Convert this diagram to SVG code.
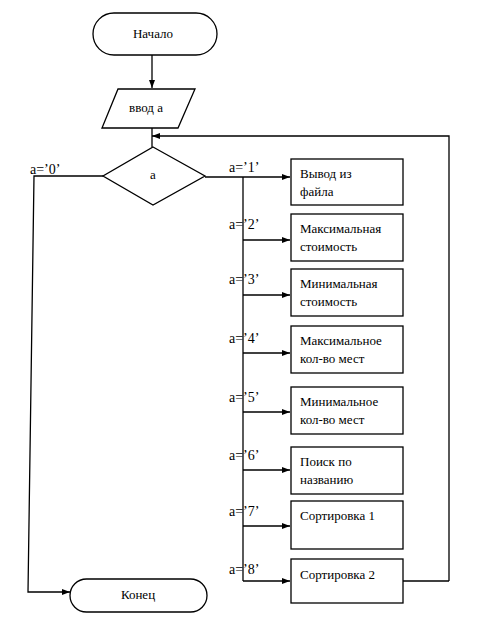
<svg xmlns="http://www.w3.org/2000/svg" width="478" height="625" viewBox="0 0 478 625">
<defs>
<marker id="ah" markerWidth="8" markerHeight="6" refX="8" refY="3" orient="auto" markerUnits="userSpaceOnUse">
<path d="M0,0 L8,3 L0,6 Z" fill="#000"/>
</marker>
<style>
.s{fill:#fff;stroke:#000;stroke-width:1.3}
.c{fill:none;stroke:#000;stroke-width:1.3}
text{font-family:'Times New Roman','Liberation Serif','DejaVu Serif','Noto Serif',Times,serif;font-size:13px;fill:#000}
.m{text-anchor:middle}
.l{font-size:14px}
</style>
</defs>
<rect width="478" height="625" fill="#fff"/>
<g id="connectors">
<path class="c" d="M152,55 V88" marker-end="url(#ah)"/>
<path class="c" d="M152,128 V147"/>
<path class="c" d="M449,581 V136 H152" marker-end="url(#ah)"/>
<path class="c" d="M403,581 H449"/>
<path class="c" d="M103,176 H34 L28,592 H70" marker-end="url(#ah)"/>
<path class="c" d="M205,177 H290" marker-end="url(#ah)"/>
<path class="c" d="M243,177 V581"/>
<path class="c" d="M243,240 H290" marker-end="url(#ah)"/>
<path class="c" d="M243,295 H290" marker-end="url(#ah)"/>
<path class="c" d="M243,353 H290" marker-end="url(#ah)"/>
<path class="c" d="M243,412 H290" marker-end="url(#ah)"/>
<path class="c" d="M243,470 H290" marker-end="url(#ah)"/>
<path class="c" d="M243,526 H290" marker-end="url(#ah)"/>
<path class="c" d="M243,581 H290" marker-end="url(#ah)"/>
<text class="l" x="30" y="174">a=’0’</text>
<text class="l" x="229" y="172">a=’1’</text>
<text class="l" x="229" y="229">a=’2’</text>
<text class="l" x="229" y="284">a=’3’</text>
<text class="l" x="229" y="343">a=’4’</text>
<text class="l" x="229" y="402">a=’5’</text>
<text class="l" x="229" y="460">a=’6’</text>
<text class="l" x="229" y="516">a=’7’</text>
<text class="l" x="229" y="574">a=’8’</text>
</g>
<g id="start">
<rect class="s" x="93" y="13" width="124" height="42" rx="21" ry="21"/>
<text class="m" x="153" y="38">Начало</text>
</g>
<g id="input">
<polygon class="s" points="118,89 195,89 178,128 102,128"/>
<text class="m" x="146" y="112">ввод а</text>
</g>
<g id="decision">
<polygon class="s" points="153,147 205,176 153,205 103,176"/>
<text class="m" x="153" y="179">а</text>
</g>
<g id="b1">
<rect class="s" x="291" y="159" width="112" height="46"/>
<text x="300" y="178">Вывод из</text>
<text x="300" y="196">файла</text>
</g>
<g id="b2">
<rect class="s" x="291" y="214" width="112" height="47"/>
<text x="300" y="233">Максимальная</text>
<text x="300" y="251">стоимость</text>
</g>
<g id="b3">
<rect class="s" x="291" y="269" width="112" height="47"/>
<text x="300" y="288">Минимальная</text>
<text x="300" y="306">стоимость</text>
</g>
<g id="b4">
<rect class="s" x="291" y="326" width="112" height="47"/>
<text x="300" y="345">Максимальное</text>
<text x="300" y="363">кол-во мест</text>
</g>
<g id="b5">
<rect class="s" x="291" y="387" width="112" height="47"/>
<text x="300" y="406">Минимальное</text>
<text x="300" y="424">кол-во мест</text>
</g>
<g id="b6">
<rect class="s" x="291" y="447" width="112" height="47"/>
<text x="300" y="466">Поиск по</text>
<text x="300" y="484">названию</text>
</g>
<g id="b7">
<rect class="s" x="291" y="501" width="112" height="48"/>
<text x="300" y="520">Сортировка 1</text>
</g>
<g id="b8">
<rect class="s" x="291" y="559" width="112" height="44"/>
<text x="300" y="579">Сортировка 2</text>
</g>
<g id="end">
<rect class="s" x="70" y="579" width="137" height="33" rx="16.5" ry="16.5"/>
<text class="m" x="138" y="599">Конец</text>
</g>
</svg>
